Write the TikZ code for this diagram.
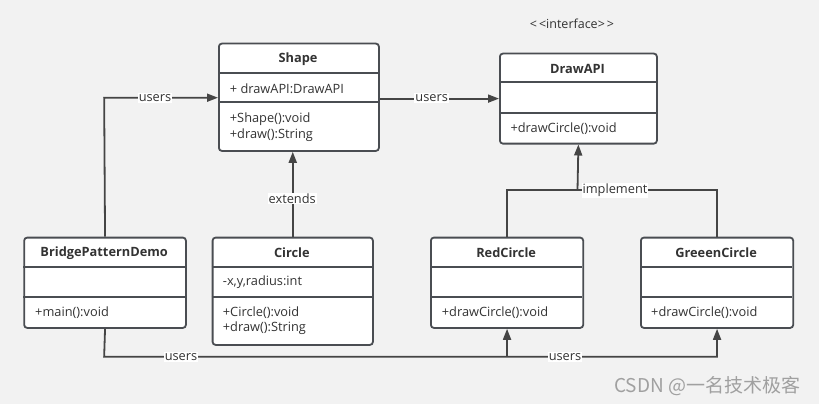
\documentclass[tikz,border=0pt]{standalone}
\usepackage{fontspec}
\setmainfont{Open Sans}
\newfontfamily\cjkfont{Noto Sans CJK SC}
\usetikzlibrary{arrows.meta}
\definecolor{bg}{HTML}{F2F2F2}
\definecolor{boxc}{HTML}{4A4D52}
\definecolor{linec}{HTML}{454545}
\definecolor{txt}{HTML}{333333}
\definecolor{wm}{HTML}{A0A0A0}
\tikzset{
  cls/.style={draw=boxc, fill=white, line width=1.8pt, rounded corners=3pt, anchor=north west, inner sep=0pt},
  divider/.style={draw=boxc, line width=1.8pt},
  ttl/.style={text=txt, font=\fontsize{12.8}{15.6}\selectfont\bfseries, inner sep=0pt},
  mem/.style={text=txt, font=\fontsize{12.8}{15.6}\selectfont, inner sep=0pt, anchor=west, align=left},
  conn/.style={draw=linec, line width=1.8pt},
  arr/.style={conn, -{Triangle[length=11pt,width=8pt]}},
  lbl/.style={fill=white, text=txt, font=\fontsize{12.8}{15.6}\selectfont, inner sep=1pt},
}
\begin{document}
\begin{tikzpicture}[x=1pt,y=-1pt]
\useasboundingbox[fill=bg] (0,0) rectangle (819,404);

% Shape
\node[cls, minimum width=160pt, minimum height=107.3pt] (shape) at (218,42.7) {};
\draw[divider] (218,72.7) -- (378,72.7);
\draw[divider] (218,102.3) -- (378,102.3);
\node[ttl] (shapeT) at (298,58.8) {Shape};
\node[mem] (shapeA) at (229.7,89) {+ drawAPI:DrawAPI};
\node[mem] (shapeM) at (229.7,127) {+Shape():void\\+draw():String};

% DrawAPI
\node[text=txt, font=\fontsize{12.5}{14}\selectfont, inner sep=0pt] (iface) at (572,23.5) {<\,<interface>\,>};
\node[cls, minimum width=157pt, minimum height=90pt] (drawapi) at (499,52.7) {};
\draw[divider] (499,82.3) -- (656,82.3);
\draw[divider] (499,112.7) -- (656,112.7);
\node[ttl] (drawapiT) at (577.5,68.8) {DrawAPI};
\node[mem] (drawapiM) at (510.3,128.6) {+drawCircle():void};

% BridgePatternDemo
\node[cls, minimum width=161.7pt, minimum height=90.3pt] (bpd) at (23.3,236.7) {};
\draw[divider] (23.3,266.7) -- (185,266.7);
\draw[divider] (23.3,296.7) -- (185,296.7);
\node[ttl] (bpdT) at (104.15,252.8) {BridgePatternDemo};
\node[mem] (bpdM) at (35,312.6) {+main():void};

% Circle
\node[cls, minimum width=160.3pt, minimum height=107.3pt] (circle) at (211.7,236.7) {};
\draw[divider] (211.7,266.7) -- (372,266.7);
\draw[divider] (211.7,296.7) -- (372,296.7);
\node[ttl] (circleT) at (291.85,252.8) {Circle};
\node[mem] (circleA) at (222.7,282.6) {-x,y,radius:int};
\node[mem] (circleM) at (222.7,320.8) {+Circle():void\\+draw():String};

% RedCircle
\node[cls, minimum width=152.3pt, minimum height=90.3pt] (red) at (430,236.7) {};
\draw[divider] (430,266.7) -- (582.3,266.7);
\draw[divider] (430,296.7) -- (582.3,296.7);
\node[ttl] (redT) at (506.15,252.8) {RedCircle};
\node[mem] (redM) at (441.7,312.6) {+drawCircle():void};

% GreeenCircle
\node[cls, minimum width=152.3pt, minimum height=90.3pt] (green) at (640,236.7) {};
\draw[divider] (640,266.7) -- (792.3,266.7);
\draw[divider] (640,296.7) -- (792.3,296.7);
\node[ttl] (greenT) at (716.15,252.8) {GreeenCircle};
\node[mem] (greenM) at (651,312.6) {+drawCircle():void};

% connectors
\coordinate (bpdtop) at (104.15,97.7);
\draw[arr] (bpd.north) -- (bpdtop) -- (bpdtop -| shape.west);
\node[lbl] (l1) at (155,98) {users};

\draw[arr] (shape.east |- drawapi.west) -- (drawapi.west);
\node[lbl] (l2) at (431.7,98) {users};

\draw[arr] (circle.north) -- (circle.north |- shape.south);
\node[lbl] (l3) at (292.2,198.5) {extends};

\coordinate (impl) at (577.5,190.3);
\draw[conn] (red.north) |- (impl) -| (green.north);
\draw[arr] (impl) -- (drawapi.south);
\node[lbl] (l4) at (615,190.6) {implement};

\coordinate (bot) at (104.15,356.7);
\draw[arr] (bpd.south) -- (bot) -| (green.south);
\draw[arr] (red.south |- bot) -- (red.south);
\node[lbl] (l5) at (181,357) {users};
\node[lbl] (l6) at (565,357) {users};

% watermark
\node[text=wm, font=\cjkfont\fontsize{19}{22}\selectfont, inner sep=0pt, anchor=west] (wmk) at (614,386) {CSDN @一名技术极客};
\end{tikzpicture}
\end{document}
